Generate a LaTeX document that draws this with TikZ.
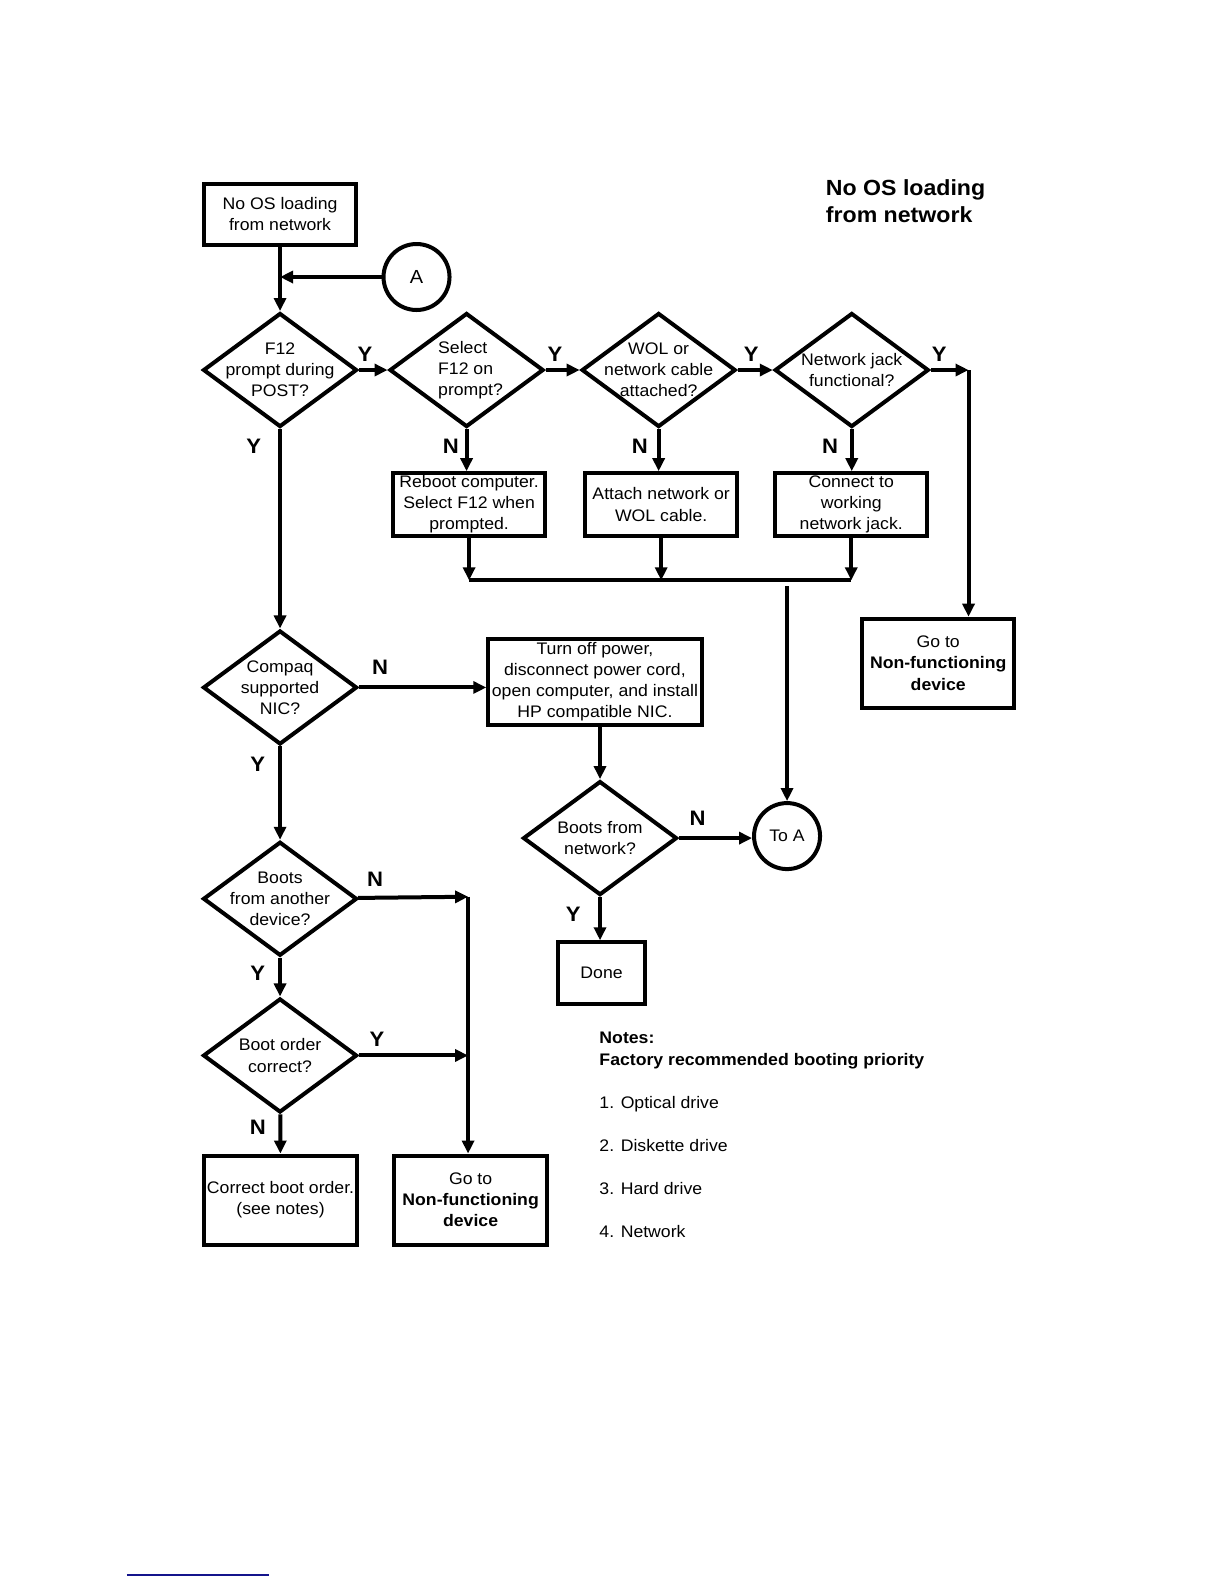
\documentclass[tikz,border=0pt]{standalone}
\usepackage{fontspec}
\setmainfont{Liberation Sans}[FakeStretch=1.055]
\usetikzlibrary{arrows.meta}
\usetikzlibrary{shapes.geometric}
\definecolor{footrule}{RGB}{20,20,140}

\begin{document}
\begin{tikzpicture}[
  x=0.5055bp,y=-0.5055bp,
  >={Triangle[length=6.5bp,width=6bp]},line width=2bp,
  block/.style={draw,rectangle,minimum width=75.8bp,minimum height=31.3bp,inner sep=1pt,align=center,font=\fontsize{8.4}{10.6}\selectfont},
  decision/.style={draw,diamond,minimum width=77bp,minimum height=57bp,inner sep=0pt},
  link/.style={draw,circle,minimum size=33bp,inner sep=0pt,font=\fontsize{9.5}{11}\selectfont},
  answer/.style={inner sep=0pt,font=\fontsize{10.5}{12}\selectfont\bfseries},
  note/.style={anchor=base west,inner sep=0pt,font=\fontsize{8.4}{10.6}\selectfont}]
      \tikzstyle{every label}=[align=center,inner sep=0pt,font=\fontsize{8.4}{10.6}\selectfont]

      \useasboundingbox (0,0) rectangle (1210.7,1566.8);

     \node [anchor=west,align=left,inner sep=0pt,font=\fontsize{11}{13.1}\selectfont\bfseries] (H) at (815,199) {No OS loading\\from network};

     \node [block,minimum height=30.3bp] (S) at (277,212) {No OS loading\\from network};
     \node [link] (A) at (412,274) {A};

     \node [decision,label={center:F12\\prompt during\\POST?}] (D1) at (277,366) {};
     \node [decision,label={[align=left,xshift=2bp]center:Select\\F12 on\\prompt?}] (D2) at (461.5,366) {};
     \node [decision,label={center:WOL or\\network cable\\attached?}] (D3) at (651.5,366) {};
     \node [decision,label={center:Network jack\\functional?}] (D4) at (842.5,366) {};

     \node [block] (R1) at (464,499) {Reboot computer.\\Select F12 when\\prompted.};
     \node [block] (R2) at (654,499) {Attach network or\\WOL cable.};
     \node [block] (R3) at (842,499) {Connect to\\working\\network jack.};
     \node [block,minimum height=44.5bp] (G1) at (928,656) {Go to\\\textbf{Non-functioning}\\\textbf{device}};

     \node [decision,label={center:Compaq\\supported\\NIC?}] (D5) at (277,680) {};
     \node [block,minimum width=106.7bp,minimum height=43bp] (T) at (588.5,674.5) {Turn off power,\\disconnect power cord,\\open computer, and install\\HP compatible NIC.};
     \node [decision,label={center:Boots from\\network?}] (D6) at (593.5,829) {};
     \node [link,font=\fontsize{8.4}{10.6}\selectfont] (TA) at (778.5,827) {To A};
     \node [block,minimum width=43.5bp,minimum height=30.8bp] (E) at (595,962.5) {Done};

     \node [decision,label={center:Boots\\from another\\device?}] (D7) at (277,889) {};
     \node [decision,label={center:Boot order\\correct?}] (D8) at (277,1044) {};
     \node [block,minimum width=76.3bp,minimum height=44.5bp] (C) at (277.5,1187) {Correct boot order.\\(see notes)};
     \node [block,minimum width=76.3bp,minimum height=44.5bp] (G2) at (465.5,1187) {Go to\\\textbf{Non-functioning}\\\textbf{device}};

     \coordinate (J1) at (958,366);
     \coordinate (Bus) at (778.5,574);
     \coordinate (Bus2) at (778.5,580);
     \coordinate (J2) at (463,887);

     \path[->]
	(S) edge (D1)
	(A) edge (A -| S)
	(D1) edge (D2)
	(D2) edge (D3)
	(D3) edge (D4)
	(D4) edge (J1)
	(J1) edge (J1 |- G1.north)
	(D2.south) edge (D2.south |- R1.north)
	(D3.south) edge (D3.south |- R2.north)
	(D4.south) edge (D4.south |- R3.north)
	(R1.south) edge (R1.south |- Bus)
	(R2.south) edge (R2.south |- Bus)
	(R3.south) edge (R3.south |- Bus)
	(Bus2) edge (TA)
	(D1) edge (D5)
	(D5.east) edge (D5.east -| T.west)
	(T.south -| D6.north) edge (D6.north)
	(D6.east) edge (D6.east -| TA.west)
	(D6.south) edge (D6.south |- E.north)
	(D5) edge (D7)
	(D7) edge (D8)
	(D8) edge (C)
	(D7) edge (J2)
	(J2) edge (J2 |- G2.north)
	(D8.east) edge (D8.east -| J2);
     \draw (R1.south |- Bus) -- (R3.south |- Bus);

     \node [answer] at (361,350) {Y};
     \node [answer] at (549,350) {Y};
     \node [answer] at (743,350) {Y};
     \node [answer] at (929,350) {Y};
     \node [answer] at (251,441) {Y};
     \node [answer] at (446,441) {N};
     \node [answer] at (633,441) {N};
     \node [answer] at (821,441) {N};
     \node [answer] at (376,660) {N};
     \node [answer] at (255,756) {Y};
     \node [answer] at (690,809) {N};
     \node [answer] at (567,904) {Y};
     \node [answer] at (371,870) {N};
     \node [answer] at (255,963) {Y};
     \node [answer] at (373,1028) {Y};
     \node [answer] at (255,1115) {N};

     \node [note,font=\fontsize{8.4}{10.6}\selectfont\bfseries] (N0) at (591,1032.5) {Notes:};
     \node [note,font=\fontsize{8.4}{10.6}\selectfont\bfseries] (N1) at (591,1053.5) {Factory recommended booting priority};
     \node [note] (N2) at (591,1096.5) {1. Optical drive};
     \node [note] (N3) at (591,1138.5) {2. Diskette drive};
     \node [note] (N4) at (591,1181.5) {3. Hard drive};
     \node [note] (N5) at (591,1224.5) {4. Network};

     \draw [line width=1bp,footrule] (125.6,1558) -- (266,1558);

  \end{tikzpicture}
\end{document}
